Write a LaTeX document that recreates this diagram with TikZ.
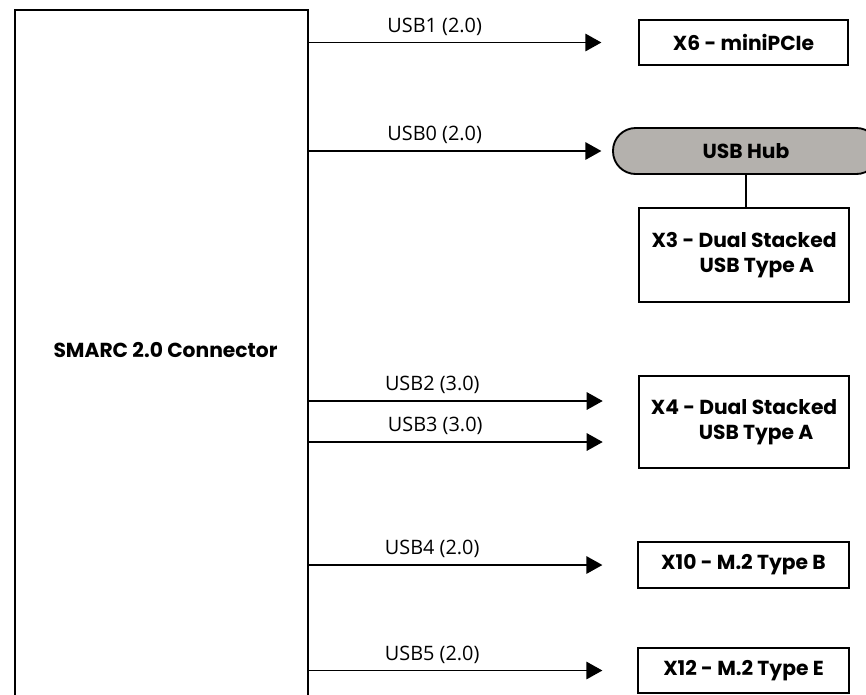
\documentclass[tikz,border=0pt]{standalone}
\usepackage{fontspec}
\setmainfont{Open Sans}
\newfontfamily\blockfont{Poppins}
\usetikzlibrary{arrows.meta, positioning}
\definecolor{hubgray}{RGB}{180,177,173}
\tikzstyle{block} = [draw, rectangle, line width=1.4pt, inner sep=2pt,
    font=\blockfont\bfseries\fontsize{15.2pt}{19pt}\selectfont]
\tikzstyle{hub} = [block, rounded corners=17pt, fill=hubgray]
\tikzstyle{arrow} = [-{Triangle[length=12pt, width=13pt]}, line width=1.4pt]
\tikzstyle{usblabel} = [inner sep=0pt, yshift=12pt,
    font=\fontsize{14.9pt}{17pt}\selectfont]

\begin{document}
\begin{tikzpicture}[x=0.75pt, y=-0.75pt]
    \useasboundingbox (0,0) rectangle (866,694);

    % Place the blocks
    \node [block, anchor=north west, minimum width=219.75pt,
        minimum height=560pt] (smarc) at (14,9) {};
    \node [font=\blockfont\bfseries\fontsize{15.2pt}{19pt}\selectfont]
        (smarctext) at (165.5,350) {SMARC 2.0 Connector};
    \node [block, minimum width=156.75pt, minimum height=33.75pt] (x6)
        at (743.5,42.5) {X6 - miniPCIe};
    \node [hub, minimum width=199.5pt, minimum height=34.5pt] (hub)
        at (746,151) {USB Hub};
    \node [block, align=left, minimum width=157.5pt, minimum height=70.5pt]
        (x3) at (744,255) {X3 - Dual Stacked\\\hspace*{36pt}USB Type A};
    \node [block, align=left, minimum width=157.5pt, minimum height=69pt]
        (x4) at (744,422) {X4 - Dual Stacked\\\hspace*{36pt}USB Type A};
    \node [block, minimum width=158.25pt, minimum height=34.5pt] (x10)
        at (743.5,565) {X10 - M.2 Type B};
    \node [block, minimum width=158.25pt, minimum height=33.75pt] (x12)
        at (743.5,670.5) {X12 - M.2 Type E};

    % Arrow ends
    \coordinate [left=27.5pt of x6.west] (x6in);
    \coordinate [left=8pt of hub.west] (hubin);
    \coordinate [left=26.5pt of x4.west, yshift=15.75pt] (x4ina);
    \coordinate [left=26.5pt of x4.west, yshift=-15pt] (x4inb);
    \coordinate [left=26pt of x10.west] (x10in);
    \coordinate [left=26pt of x12.west] (x12in);

    % Connect the nodes
    \draw [arrow] (smarc.east |- x6in) -- node[usblabel, pos=0.43] {USB1 (2.0)} (x6in);
    \draw [arrow] (smarc.east |- hubin) -- node[usblabel, pos=0.43] {USB0 (2.0)} (hubin);
    \draw [line width=1.4pt] (x3.north -| hub.south) -- (hub.south);
    \draw [arrow] (smarc.east |- x4ina) -- node[usblabel, pos=0.42] {USB2 (3.0)} (x4ina);
    \draw [arrow] (smarc.east |- x4inb) -- node[usblabel, pos=0.43] {USB3 (3.0)} (x4inb);
    \draw [arrow] (smarc.east |- x10in) -- node[usblabel, pos=0.42] {USB4 (2.0)} (x10in);
    \draw [arrow] (smarc.east |- x12in) -- node[usblabel, pos=0.42] {USB5 (2.0)} (x12in);
\end{tikzpicture}
\end{document}
